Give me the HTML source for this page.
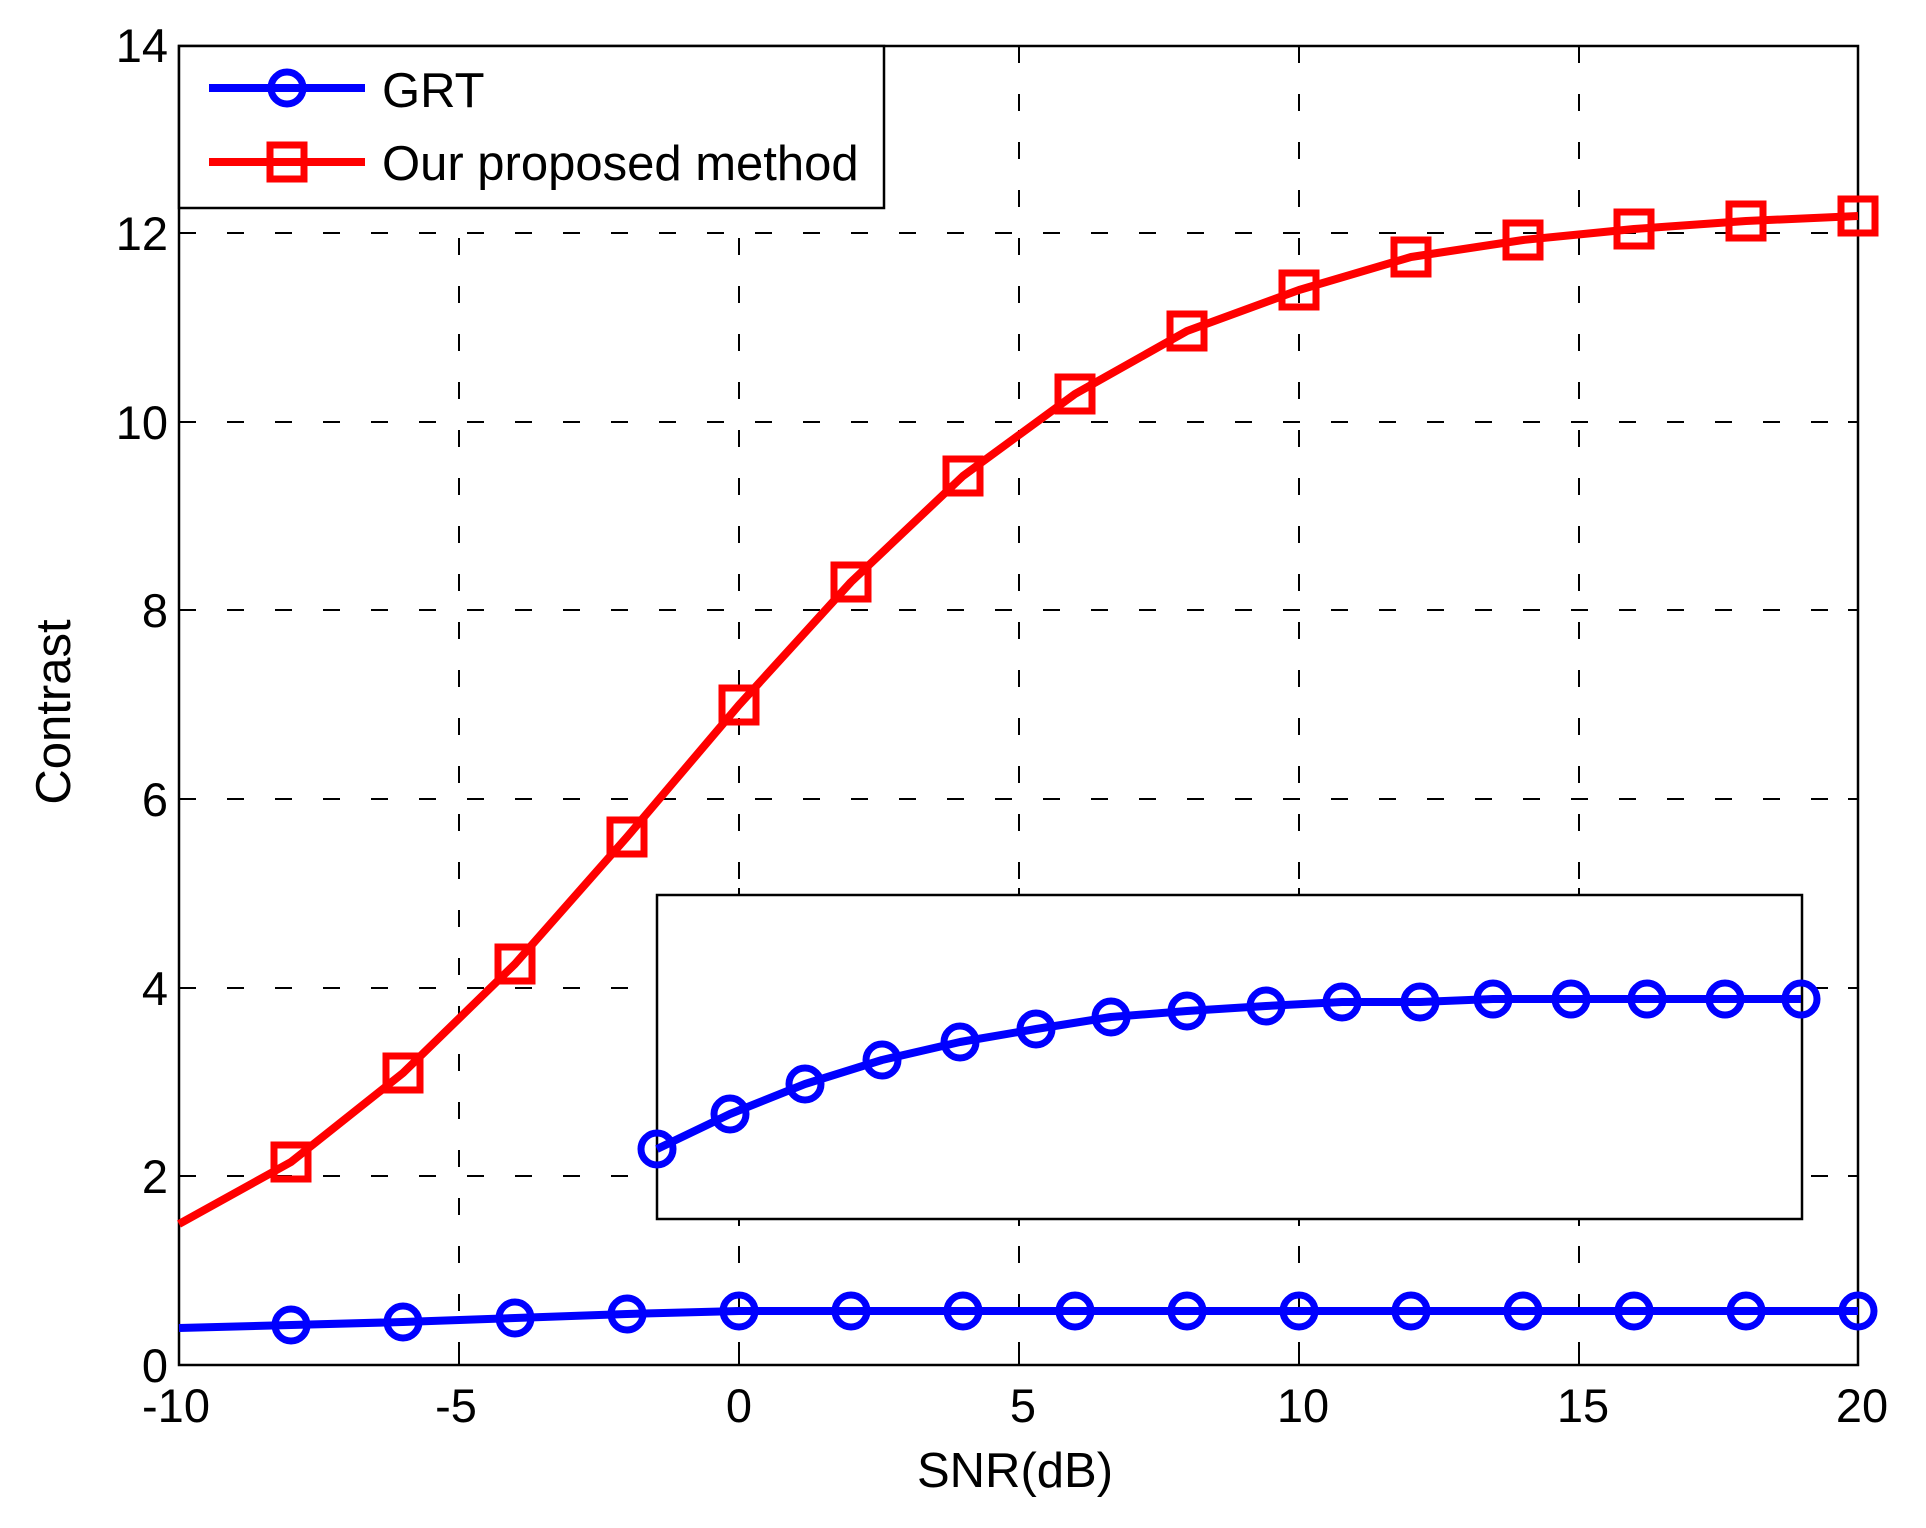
<!DOCTYPE html>
<html><head><meta charset="utf-8"><style>html,body{margin:0;padding:0;background:#fff}svg{display:block}</style></head>
<body>
<svg width="1926" height="1528" viewBox="0 0 1926 1528" xmlns="http://www.w3.org/2000/svg" font-family="Liberation Sans, Arial, sans-serif">
<rect width="1926" height="1528" fill="#fff"/>
<g stroke="#000" stroke-width="2" stroke-dasharray="17 31" fill="none">
<line x1="459" y1="46" x2="459" y2="1365"/><line x1="739" y1="46" x2="739" y2="1365"/>
<line x1="1019" y1="46" x2="1019" y2="1365"/><line x1="1299" y1="46" x2="1299" y2="1365"/>
<line x1="1579" y1="46" x2="1579" y2="1365"/>
<line x1="179" y1="1176" x2="1858" y2="1176"/><line x1="179" y1="988" x2="1858" y2="988"/>
<line x1="179" y1="799" x2="1858" y2="799"/><line x1="179" y1="610" x2="1858" y2="610"/>
<line x1="179" y1="422" x2="1858" y2="422"/><line x1="179" y1="233" x2="1858" y2="233"/>
</g>
<g stroke="#000" stroke-width="2">
<line x1="459" y1="1365" x2="459" y2="1355"/><line x1="739" y1="1365" x2="739" y2="1355"/><line x1="1019" y1="1365" x2="1019" y2="1355"/><line x1="1299" y1="1365" x2="1299" y2="1355"/><line x1="1579" y1="1365" x2="1579" y2="1355"/>
<line x1="459" y1="46" x2="459" y2="56"/><line x1="739" y1="46" x2="739" y2="56"/><line x1="1019" y1="46" x2="1019" y2="56"/><line x1="1299" y1="46" x2="1299" y2="56"/><line x1="1579" y1="46" x2="1579" y2="56"/>
<line x1="179" y1="1176" x2="189" y2="1176"/><line x1="179" y1="988" x2="189" y2="988"/><line x1="179" y1="799" x2="189" y2="799"/><line x1="179" y1="610" x2="189" y2="610"/><line x1="179" y1="422" x2="189" y2="422"/><line x1="179" y1="233" x2="189" y2="233"/>
<line x1="1858" y1="1176" x2="1848" y2="1176"/><line x1="1858" y1="988" x2="1848" y2="988"/><line x1="1858" y1="799" x2="1848" y2="799"/><line x1="1858" y1="610" x2="1848" y2="610"/><line x1="1858" y1="422" x2="1848" y2="422"/><line x1="1858" y1="233" x2="1848" y2="233"/>
</g>
<rect x="179" y="46" width="1679" height="1319" fill="none" stroke="#000" stroke-width="2.5"/>
<!-- red series -->
<polyline fill="none" stroke="#f00" stroke-width="8" stroke-linejoin="round" points="179,1224 291,1162 403,1073 515,964 627,837 739,705 851,582 963,476 1075,394 1187,331 1299,290 1411,257 1523,240 1634,229 1746,221 1858,216"/>
<g fill="none" stroke="#f00" stroke-width="7">
<rect x="274" y="1145" width="34" height="34"/><rect x="386" y="1056" width="34" height="34"/><rect x="498" y="947" width="34" height="34"/><rect x="610" y="820" width="34" height="34"/><rect x="722" y="688" width="34" height="34"/><rect x="834" y="565" width="34" height="34"/><rect x="946" y="459" width="34" height="34"/><rect x="1058" y="377" width="34" height="34"/><rect x="1170" y="314" width="34" height="34"/><rect x="1282" y="273" width="34" height="34"/><rect x="1394" y="240" width="34" height="34"/><rect x="1506" y="223" width="34" height="34"/><rect x="1617" y="212" width="34" height="34"/><rect x="1729" y="204" width="34" height="34"/><rect x="1841" y="199" width="34" height="34"/>
</g>
<!-- blue series -->
<polyline fill="none" stroke="#00f" stroke-width="8" points="179,1328 291,1325 403,1322 515,1318 627,1314 739,1311 1858,1311"/>
<g fill="none" stroke="#00f" stroke-width="7">
<circle cx="291" cy="1325" r="16"/><circle cx="403" cy="1322" r="16"/><circle cx="515" cy="1318" r="16"/><circle cx="627" cy="1314" r="16"/><circle cx="739" cy="1311" r="16"/><circle cx="851" cy="1311" r="16"/><circle cx="963" cy="1311" r="16"/><circle cx="1075" cy="1311" r="16"/><circle cx="1187" cy="1311" r="16"/><circle cx="1299" cy="1311" r="16"/><circle cx="1411" cy="1311" r="16"/><circle cx="1523" cy="1311" r="16"/><circle cx="1634" cy="1311" r="16"/><circle cx="1746" cy="1311" r="16"/><circle cx="1858" cy="1311" r="16"/>
</g>
<!-- inset -->
<rect x="657" y="895" width="1145" height="324" fill="#fff" stroke="#000" stroke-width="2.5"/>
<g stroke="#000" stroke-width="2">
<line x1="739" y1="895" x2="739" y2="888"/><line x1="1019" y1="895" x2="1019" y2="888"/><line x1="1299" y1="895" x2="1299" y2="888"/><line x1="1579" y1="895" x2="1579" y2="888"/>
<line x1="739" y1="1219" x2="739" y2="1226"/><line x1="1019" y1="1219" x2="1019" y2="1226"/><line x1="1299" y1="1219" x2="1299" y2="1226"/><line x1="1579" y1="1219" x2="1579" y2="1226"/>
</g>
<polyline fill="none" stroke="#00f" stroke-width="8" stroke-linejoin="round" points="657,1149 730,1114 805,1084 882,1060 960,1042 1036,1029 1111,1017 1187,1011 1266,1006 1342,1002 1420,1002 1493,999 1571,999 1647,999 1725,999 1801,999"/>
<g fill="none" stroke="#00f" stroke-width="7">
<circle cx="657" cy="1149" r="16"/><circle cx="730" cy="1114" r="16"/><circle cx="805" cy="1084" r="16"/><circle cx="882" cy="1060" r="16"/><circle cx="960" cy="1042" r="16"/><circle cx="1036" cy="1029" r="16"/><circle cx="1111" cy="1017" r="16"/><circle cx="1187" cy="1011" r="16"/><circle cx="1266" cy="1006" r="16"/><circle cx="1342" cy="1002" r="16"/><circle cx="1420" cy="1002" r="16"/><circle cx="1493" cy="999" r="16"/><circle cx="1571" cy="999" r="16"/><circle cx="1647" cy="999" r="16"/><circle cx="1725" cy="999" r="16"/><circle cx="1801" cy="999" r="16"/>
</g>
<!-- legend -->
<rect x="179" y="46" width="705" height="162" fill="#fff" stroke="#000" stroke-width="2.5"/>
<line x1="209" y1="88" x2="365" y2="88" stroke="#00f" stroke-width="8"/>
<circle cx="287" cy="88" r="16" fill="none" stroke="#00f" stroke-width="7"/>
<line x1="209" y1="162" x2="365" y2="162" stroke="#f00" stroke-width="8"/>
<rect x="270" y="145" width="34" height="34" fill="none" stroke="#f00" stroke-width="7"/>
<g font-size="49" fill="#000">
<text x="382" y="107">GRT</text>
<text x="382" y="180">Our proposed method</text>
</g>
<!-- tick labels -->
<g font-size="47" fill="#000" text-anchor="end">
<text x="168" y="1382">0</text><text x="168" y="1193">2</text><text x="168" y="1005">4</text><text x="168" y="816">6</text><text x="168" y="627">8</text><text x="168" y="439">10</text><text x="168" y="250">12</text><text x="168" y="62">14</text>
</g>
<g font-size="47" fill="#000" text-anchor="middle">
<text x="176" y="1422">-10</text><text x="456" y="1422">-5</text><text x="739" y="1422">0</text><text x="1023" y="1422">5</text><text x="1303" y="1422">10</text><text x="1583" y="1422">15</text><text x="1862" y="1422">20</text>
</g>
<text x="1015" y="1487" font-size="49" text-anchor="middle">SNR(dB)</text>
<text transform="translate(70,712) rotate(-90)" font-size="49" text-anchor="middle">Contrast</text>
</svg>
</body></html>
